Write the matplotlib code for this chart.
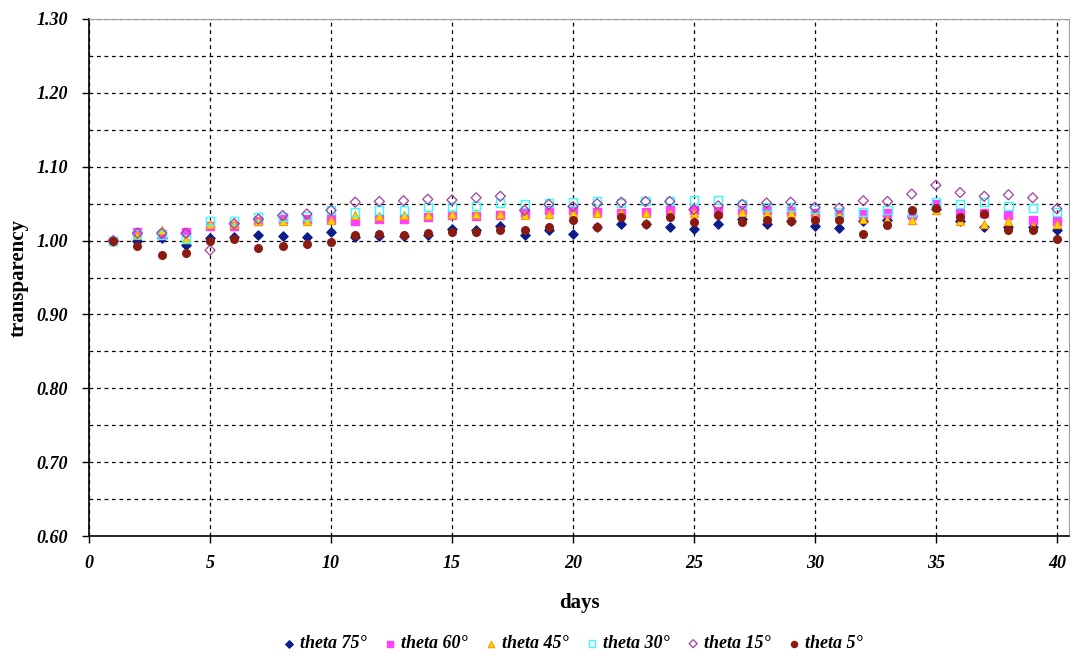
import matplotlib
matplotlib.use("Agg")
import matplotlib.pyplot as plt
from matplotlib.ticker import MultipleLocator

days = list(range(1, 41))
t75 = [1.000, 1.000, 1.004, 0.994, 1.003, 1.005, 1.008, 1.006, 1.005, 1.011,
       1.005, 1.006, 1.006, 1.008, 1.016, 1.015, 1.020, 1.008, 1.015, 1.009,
       1.018, 1.022, 1.022, 1.018, 1.016, 1.022, 1.029, 1.022, 1.027, 1.020,
       1.017, 1.026, 1.028, 1.033, 1.043, 1.027, 1.018, 1.018, 1.018, 1.014]
t60 = [1.000, 1.011, 1.009, 1.012, 1.020, 1.020, 1.027, 1.029, 1.029, 1.029,
       1.027, 1.029, 1.029, 1.032, 1.034, 1.033, 1.034, 1.038, 1.042, 1.041,
       1.039, 1.038, 1.039, 1.041, 1.041, 1.040, 1.041, 1.042, 1.040, 1.038,
       1.036, 1.036, 1.037, 1.034, 1.050, 1.038, 1.038, 1.034, 1.028, 1.026]
t45 = [1.000, 1.007, 1.015, 1.002, 1.022, 1.022, 1.026, 1.027, 1.026, 1.028,
       1.034, 1.033, 1.034, 1.034, 1.036, 1.036, 1.036, 1.035, 1.036, 1.037,
       1.037, 1.037, 1.038, 1.038, 1.038, 1.037, 1.039, 1.038, 1.037, 1.034,
       1.034, 1.029, 1.028, 1.028, 1.041, 1.026, 1.023, 1.027, 1.020, 1.022]
t30 = [1.000, 1.009, 1.007, 1.002, 1.026, 1.026, 1.032, 1.032, 1.033, 1.041,
       1.039, 1.042, 1.042, 1.045, 1.046, 1.047, 1.051, 1.049, 1.051, 1.052,
       1.053, 1.051, 1.053, 1.053, 1.055, 1.055, 1.050, 1.046, 1.046, 1.043,
       1.039, 1.039, 1.041, 1.039, 1.052, 1.050, 1.052, 1.047, 1.044, 1.039]
t15 = [1.000, 1.010, 1.010, 1.010, 0.987, 1.023, 1.029, 1.034, 1.036, 1.041,
       1.052, 1.053, 1.054, 1.056, 1.055, 1.058, 1.060, 1.041, 1.049, 1.046,
       1.050, 1.052, 1.053, 1.053, 1.042, 1.047, 1.049, 1.051, 1.052, 1.045,
       1.044, 1.054, 1.053, 1.063, 1.075, 1.065, 1.060, 1.062, 1.058, 1.043]
t5 = [1.000, 0.993, 0.980, 0.983, 1.000, 1.002, 0.990, 0.992, 0.996, 0.998,
      1.007, 1.009, 1.007, 1.010, 1.011, 1.012, 1.014, 1.014, 1.018, 1.028,
      1.019, 1.032, 1.022, 1.032, 1.025, 1.035, 1.025, 1.028, 1.027, 1.028,
      1.028, 1.009, 1.021, 1.041, 1.044, 1.032, 1.036, 1.014, 1.014, 1.002]
labels = ["theta 75°", "theta 60°", "theta 45°", "theta 30°", "theta 15°", "theta 5°"]
xticks = [0, 5, 10, 15, 20, 25, 30, 35, 40]
yticks = [0.60, 0.70, 0.80, 0.90, 1.00, 1.10, 1.20, 1.30]

# tick labels and legend are bold italic serif; axis titles reset to upright
plt.rcParams["font.family"] = ["Liberation Serif", "DejaVu Serif"]
plt.rcParams["font.style"] = "italic"
plt.rcParams["font.weight"] = "bold"

fig = plt.figure(figsize=(10.74, 6.62), dpi=100)
ax = fig.add_axes([0.0829, 0.1903, 0.9124, 0.781])

ax.scatter(days, t75, marker="D", s=22, color="#0b1d8c", label=labels[0], zorder=3)
ax.scatter(days, t60, marker="s", s=30, color="#ff40ff", label=labels[1], zorder=3)
ax.scatter(days, t45, marker="^", s=34, facecolor="#ffd700", edgecolor="#ff9900",
           linewidth=0.8, label=labels[2], zorder=3)
ax.scatter(days, t30, marker="s", s=34, facecolor="none", edgecolor="#33ffff",
           linewidth=1.0, label=labels[3], zorder=3)
ax.scatter(days, t15, marker="D", s=26, facecolor="none", edgecolor="#a040a0",
           linewidth=0.9, label=labels[4], zorder=3)
ax.scatter(days, t5, marker="o", s=30, color="#8b1a10", label=labels[5], zorder=3)

ax.set_xlim(0, 40.5)
ax.set_ylim(0.60, 1.30)
ax.set_xticks(xticks, [str(v) for v in xticks])
ax.set_yticks(yticks, ["%.2f" % v for v in yticks])
ax.yaxis.set_minor_locator(MultipleLocator(0.05))

ax.tick_params(axis="y", which="major", direction="out", length=5, width=1,
               labelsize=13, pad=10)
ax.tick_params(axis="x", which="major", direction="out", length=5, width=1,
               labelsize=13, pad=9)
ax.tick_params(axis="y", which="minor", length=0)

ax.grid(True, which="major", axis="both", color="black", linestyle=(0, (3, 3)), linewidth=0.9)
ax.grid(True, which="minor", axis="y", color="black", linestyle=(0, (3, 3)), linewidth=0.9)
ax.set_axisbelow(True)

ax.spines["top"].set_color("#a0a0a0")
ax.spines["right"].set_color("#a0a0a0")
ax.spines["left"].set_linewidth(1.2)
ax.spines["bottom"].set_linewidth(1.2)

ax.set_xlabel("days", fontsize=15, fontweight="bold", fontstyle="normal", labelpad=15)
ax.set_ylabel("transparency", fontsize=15, fontweight="bold", fontstyle="normal", labelpad=6)

leg = fig.legend(loc="lower center", bbox_to_anchor=(0.532, -0.01), ncol=6, frameon=False,
                 fontsize=13, handletextpad=0.1, columnspacing=0.8,
                 markerscale=0.8, handlelength=1.0)

fig.savefig("out.png", dpi=100)
